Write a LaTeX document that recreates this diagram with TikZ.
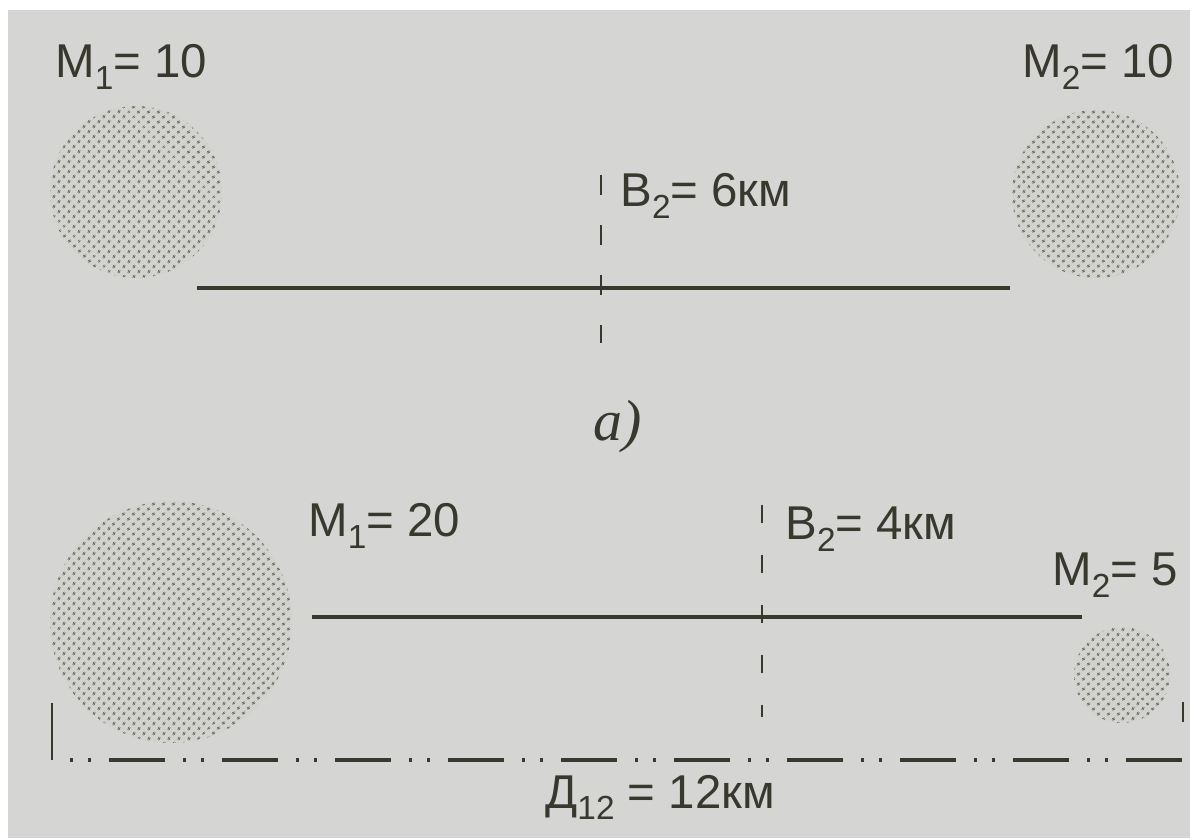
\documentclass[tikz,border=0pt]{standalone}
\usepackage{fontspec}
\setmainfont{Liberation Sans}
\newfontfamily\figfont{Liberation Serif}
\usetikzlibrary{patterns.meta}
\definecolor{paper}{HTML}{D5D5D3}
\definecolor{ink}{HTML}{38382F}
\definecolor{halftone}{HTML}{D2D2CE}
\definecolor{dotgray}{HTML}{76766F}
\newcommand{\ix}[1]{\raisebox{-0.24em}{\fontsize{19}{19}\selectfont#1}}

\begin{document}
\begin{tikzpicture}[
 lbl/.style={font=\fontsize{27}{27}\selectfont,text=ink,anchor=base west,inner sep=0pt},
 mass/.style={circle,inner sep=0pt,fill=halftone,
  postaction={pattern={Dots[distance=4pt,radius=0.85pt,angle=45]},pattern color=dotgray}},
 axis/.style={ink,line width=2.2pt},
 mid/.style={ink,line width=1.6pt},
 base/.style={ink,line width=2pt,dash pattern=on 1.12cm off 0.36cm on 0.06cm off 0.3cm on 0.06cm off 0.36cm,dash phase=1.12cm}]
\useasboundingbox (0,0) rectangle (23.8,16.76);
\fill[white] (0,0) rectangle (23.8,16.76);
\fill[paper] (0.16,0) rectangle (23.8,16.56);
% a)
\node[mass,minimum size=3.44cm] (ma1) at (2.72,12.92) {};
\node[mass,minimum size=3.36cm] (ma2) at (21.92,12.88) {};
\node[lbl] (la1) at (1.1,15.2) {М\ix{1}= 10};
\node[lbl] (la2) at (20.44,15.2) {М\ix{2}= 10};
\node[lbl] (lva) at (12.4,12.62) {В\ix{2}= 6км};
\coordinate (a1) at (3.94,11.0);
\coordinate (a2) at (20.2,11.0);
\coordinate (va1) at (12.02,13.26);
\coordinate (va2) at (12.02,9.9);
\draw[axis] (a1) -- (a2);
\draw[mid,dash pattern=on 0.4cm off 0.6cm] (va1) -- (va2);
\node[font=\figfont\itshape\fontsize{33}{33}\selectfont,text=ink] (cap) at (12.36,8.22) {a)};
% b)
\node[mass,minimum size=4.84cm] (mb1) at (3.42,4.32) {};
\node[mass,minimum size=1.92cm] (mb2) at (22.44,3.26) {};
\node[lbl] (lb1) at (6.16,6.02) {М\ix{1}= 20};
\node[lbl] (lb2) at (21.04,5.04) {М\ix{2}= 5};
\node[lbl] (lvb) at (15.7,5.96) {В\ix{2}= 4км};
\coordinate (b1) at (6.24,4.42);
\coordinate (b2) at (21.64,4.42);
\coordinate (vb1) at (15.24,6.66);
\coordinate (vb2) at (15.24,2.42);
\draw[axis] (b1) -- (b2);
\draw[mid,dash pattern=on 0.36cm off 0.64cm] (vb1) -- (vb2);
\coordinate (d1) at (1.04,1.56);
\coordinate (d2) at (23.66,1.56);
\coordinate (t1) at (1.04,2.7);
\coordinate (t2) at (23.66,2.72);
\coordinate (t3) at (23.66,2.32);
\draw[base] (d1) -- (d2);
\draw[mid] (t1) -- (d1);
\draw[mid] (t2) -- (t3);
\node[lbl] (ld) at (10.9,0.6) {Д\ix{12} = 12км};
\end{tikzpicture}
\end{document}
